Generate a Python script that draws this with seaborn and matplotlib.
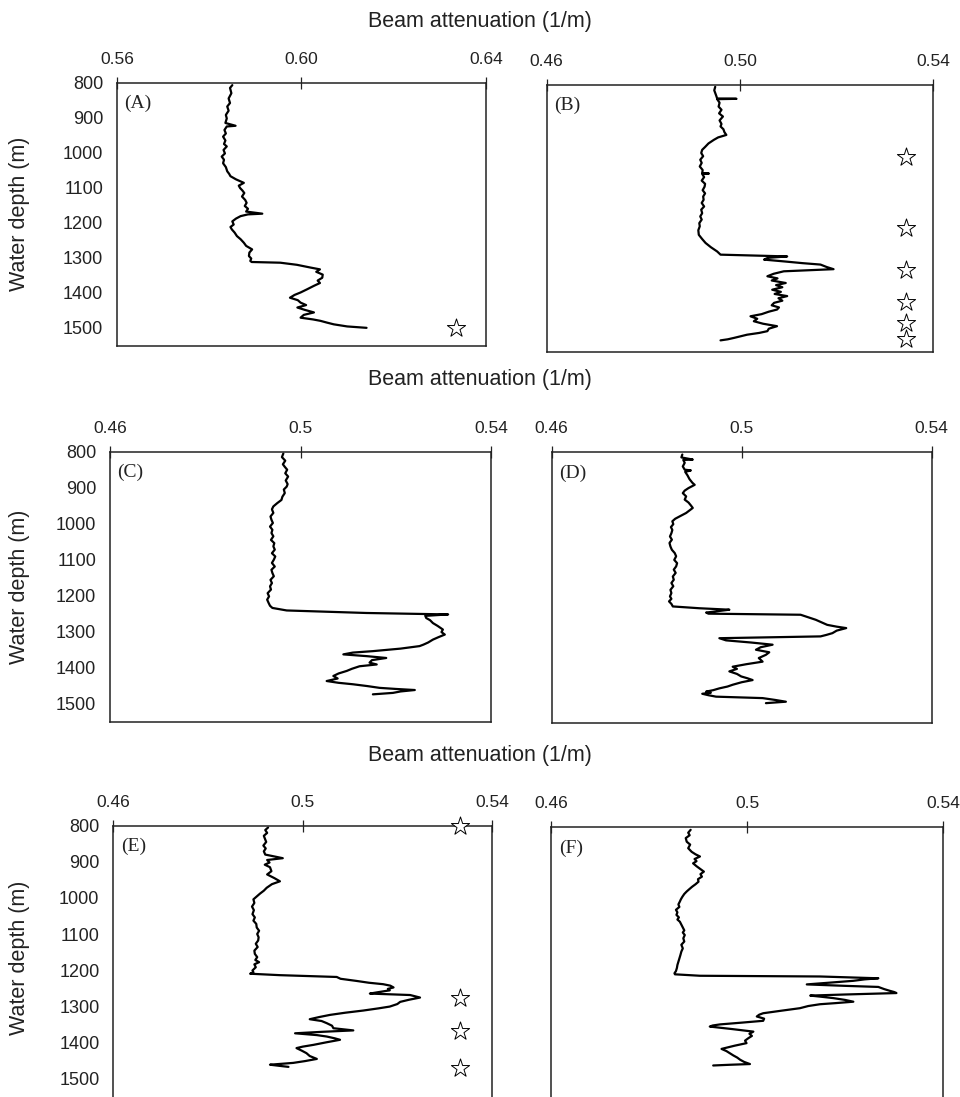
import numpy as np
import pandas as pd
import seaborn as sns
import matplotlib.pyplot as plt

sns.set_style('white')
plt.rcParams['font.family'] = ['Liberation Sans', 'DejaVu Sans']

# --- profiles: depth (m) and beam attenuation (1/m) ---
depth_a = [807, 815, 830, 845, 858, 868, 880, 892, 902, 915,
           923, 925, 935, 945, 954, 965, 975, 982, 992, 1002,
           1011, 1020, 1030, 1041, 1053, 1060, 1067, 1076, 1086, 1094,
           1101, 1108, 1115, 1125, 1135, 1143, 1152, 1160, 1168, 1174,
           1176, 1181, 1188, 1196, 1205, 1212, 1219, 1228, 1238, 1247,
           1257, 1266, 1276, 1285, 1295, 1302, 1309, 1312, 1314, 1320,
           1328, 1333, 1340, 1348, 1357, 1365, 1372, 1380, 1390, 1399,
           1406, 1414, 1421, 1428, 1435, 1442, 1449, 1456, 1463, 1471,
           1476, 1480, 1485, 1490, 1496, 1500]
beam_a = [.5850, .5845, .5848, .5842, .5845, .5839, .5842, .5836, .5838, .5835,
          .5857, .5838, .5833, .5836, .5830, .5835, .5832, .5838, .5831, .5834,
          .5827, .5832, .5830, .5836, .5839, .5843, .5846, .5858, .5875, .5864,
          .5867, .5872, .5876, .5871, .5878, .5881, .5877, .5884, .5880, .5915,
          .5884, .5868, .5858, .5850, .5853, .5846, .5849, .5855, .5860, .5868,
          .5875, .5880, .5893, .5887, .5886, .5891, .5889, .5892, .5954, .5990,
          .6020, .6040, .6032, .6046, .6045, .6035, .6040, .6027, .6012, .5998,
          .5985, .5975, .5992, .5998, .6010, .5991, .6008, .6027, .6005, .5998,
          .6025, .6041, .6055, .6070, .6099, .6141]

depth_b = [805, 815, 830, 838, 839, 840, 850, 861, 870, 880,
           889, 900, 910, 917, 925, 933, 941, 948, 955, 965,
           975, 983, 992, 1001, 1011, 1020, 1030, 1040, 1049, 1050,
           1051, 1060, 1070, 1079, 1087, 1097, 1106, 1115, 1124, 1133,
           1143, 1152, 1162, 1171, 1180, 1190, 1199, 1210, 1223, 1235,
           1246, 1258, 1270, 1279, 1284, 1288, 1293, 1298, 1303, 1307,
           1314, 1320, 1326, 1333, 1340, 1346, 1352, 1359, 1365, 1371,
           1378, 1384, 1390, 1396, 1402, 1409, 1415, 1422, 1428, 1434,
           1440, 1447, 1453, 1460, 1467, 1474, 1481, 1488, 1495, 1500,
           1505, 1510, 1514, 1518, 1521]
beam_b = [.4949, .4947, .4951, .4953, .4993, .4953, .4958, .4956, .4962, .4957,
          .4965, .4958, .4962, .4960, .4966, .4968, .4972, .4955, .4946, .4935,
          .4928, .4922, .4920, .4924, .4918, .4921, .4917, .4923, .4922, .4936,
          .4922, .4926, .4921, .4928, .4927, .4923, .4928, .4924, .4925, .4921,
          .4926, .4920, .4922, .4918, .4921, .4916, .4917, .4914, .4915, .4922,
          .4929, .4940, .4953, .4960, .5098, .5058, .5050, .5091, .5130, .5167,
          .5180, .5194, .5091, .5070, .5057, .5078, .5066, .5095, .5075, .5088,
          .5067, .5085, .5072, .5098, .5080, .5088, .5071, .5066, .5081, .5077,
          .5060, .5045, .5022, .5036, .5029, .5048, .5077, .5060, .5057, .5040,
          .5015, .5000, .4988, .4975, .4960]

depth_c = [805, 815, 825, 835, 842, 850, 860, 869, 880, 890,
           897, 905, 915, 925, 934, 943, 952, 960, 970, 980,
           989, 998, 1008, 1017, 1026, 1035, 1045, 1054, 1063, 1072,
           1082, 1091, 1100, 1109, 1119, 1128, 1137, 1146, 1156, 1165,
           1174, 1183, 1193, 1202, 1211, 1220, 1228, 1234, 1241, 1248,
           1252, 1256, 1262, 1268, 1276, 1284, 1294, 1301, 1308, 1315,
           1322, 1330, 1336, 1340, 1347, 1354, 1358, 1363, 1368, 1373,
           1379, 1386, 1391, 1396, 1403, 1409, 1416, 1423, 1430, 1437,
           1442, 1446, 1451, 1456, 1459, 1462, 1466, 1470, 1474]
beam_c = [.4964, .4961, .4968, .4963, .4967, .4972, .4968, .4974, .4969, .4973,
          .4971, .4965, .4967, .4962, .4960, .4951, .4943, .4940, .4943, .4937,
          .4939, .4942, .4936, .4941, .4939, .4943, .4938, .4945, .4943, .4946,
          .4940, .4947, .4944, .4940, .4946, .4939, .4941, .4944, .4937, .4940,
          .4936, .4938, .4931, .4934, .4930, .4933, .4936, .4941, .4971, .5138,
          .5310, .5262, .5264, .5272, .5278, .5288, .5299, .5296, .5303, .5290,
          .5278, .5268, .5258, .5250, .5210, .5152, .5110, .5090, .5140, .5180,
          .5150, .5145, .5160, .5124, .5108, .5097, .5080, .5069, .5078, .5055,
          .5080, .5110, .5140, .5166, .5200, .5240, .5210, .5194, .5152]

depth_d = [807, 815, 821, 822, 830, 840, 849, 851, 855, 865,
           875, 885, 891, 900, 907, 914, 923, 932, 940, 948,
           955, 962, 969, 978, 985, 992, 1000, 1008, 1016, 1025,
           1034, 1043, 1052, 1062, 1071, 1080, 1089, 1099, 1108, 1117,
           1126, 1135, 1145, 1154, 1163, 1172, 1182, 1191, 1200, 1207,
           1214, 1221, 1228, 1233, 1237, 1241, 1245, 1248, 1251, 1258,
           1265, 1272, 1279, 1284, 1288, 1295, 1302, 1307, 1311, 1316,
           1322, 1328, 1334, 1341, 1348, 1355, 1362, 1371, 1381, 1388,
           1395, 1401, 1408, 1415, 1422, 1427, 1432, 1438, 1445, 1450,
           1455, 1460, 1464, 1467, 1470, 1474, 1478, 1482, 1487, 1492,
           1496]
beam_d = [.4875, .4873, .4897, .4877, .4880, .4876, .4880, .4893, .4881, .4886,
          .4890, .4896, .4901, .4888, .4880, .4876, .4883, .4880, .4888, .4893,
          .4897, .4890, .4883, .4870, .4860, .4854, .4856, .4851, .4854, .4852,
          .4849, .4853, .4848, .4850, .4853, .4859, .4862, .4858, .4864, .4862,
          .4857, .4861, .4855, .4857, .4852, .4856, .4850, .4852, .4849, .4852,
          .4847, .4852, .4855, .4911, .4974, .4950, .4925, .4930, .5124, .5140,
          .5156, .5168, .5180, .5200, .5220, .5200, .5191, .5178, .5166, .4953,
          .4967, .5020, .5065, .5040, .5030, .5058, .5051, .5036, .5044, .5010,
          .4981, .4990, .4974, .4990, .4999, .5012, .5023, .5000, .4981, .4970,
          .4953, .4940, .4925, .4935, .4917, .4930, .4946, .5044, .5070, .5093,
          .5051]

depth_e = [805, 812, 820, 828, 835, 845, 855, 863, 871, 880,
           890, 895, 902, 908, 915, 926, 935, 945, 954, 962,
           972, 980, 988, 996, 1004, 1014, 1024, 1034, 1045, 1054,
           1063, 1072, 1082, 1091, 1100, 1109, 1118, 1127, 1136, 1146,
           1155, 1164, 1172, 1178, 1184, 1192, 1201, 1206, 1210, 1214,
           1219, 1224, 1230, 1235, 1239, 1243, 1248, 1252, 1256, 1261,
           1265, 1269, 1276, 1282, 1288, 1294, 1301, 1306, 1312, 1318,
           1324, 1330, 1336, 1341, 1347, 1354, 1361, 1367, 1371, 1375,
           1380, 1384, 1389, 1393, 1400, 1407, 1412, 1416, 1423, 1430,
           1438, 1446, 1452, 1457, 1462, 1465, 1468]
beam_e = [.4927, .4921, .4925, .4918, .4920, .4923, .4917, .4922, .4918, .4921,
          .4958, .4925, .4930, .4920, .4931, .4934, .4925, .4940, .4952, .4935,
          .4924, .4918, .4910, .4903, .4896, .4898, .4893, .4897, .4894, .4899,
          .4896, .4902, .4903, .4908, .4904, .4907, .4906, .4901, .4905, .4898,
          .4899, .4904, .4900, .4908, .4898, .4901, .4894, .4896, .4889, .4952,
          .5072, .5080, .5114, .5140, .5170, .5185, .5192, .5180, .5184, .5160,
          .5142, .5227, .5248, .5225, .5206, .5200, .5184, .5160, .5128, .5090,
          .5058, .5035, .5015, .5040, .5051, .5062, .5065, .5107, .5040, .4984,
          .5030, .5051, .5068, .5079, .5050, .5023, .5000, .4987, .4998, .5008,
          .5015, .5030, .5005, .4980, .4931, .4950, .4970]

depth_f = [807, 815, 822, 830, 840, 848, 858, 868, 875, 881,
           888, 894, 900, 908, 916, 923, 930, 937, 944, 951,
           958, 965, 972, 978, 985, 993, 1000, 1006, 1014, 1021,
           1029, 1036, 1043, 1050, 1056, 1062, 1070, 1078, 1086, 1092,
           1099, 1108, 1117, 1126, 1136, 1145, 1155, 1164, 1173, 1182,
           1190, 1199, 1205, 1208, 1212, 1214, 1219, 1222, 1226, 1231,
           1236, 1240, 1243, 1249, 1254, 1257, 1260, 1264, 1267, 1270,
           1274, 1279, 1284, 1288, 1291, 1296, 1302, 1309, 1316, 1320,
           1325, 1331, 1337, 1342, 1347, 1350, 1353, 1360, 1367, 1373,
           1379, 1385, 1392, 1399, 1406, 1411, 1415, 1421, 1427, 1433,
           1439, 1445, 1451, 1457, 1459, 1461]
beam_f = [.4885, .4880, .4883, .4875, .4877, .4884, .4880, .4887, .4895, .4904,
          .4893, .4897, .4890, .4897, .4905, .4912, .4905, .4908, .4900, .4901,
          .4895, .4888, .4882, .4877, .4872, .4868, .4865, .4863, .4860, .4862,
          .4855, .4858, .4856, .4861, .4858, .4863, .4866, .4869, .4872, .4869,
          .4873, .4870, .4872, .4866, .4869, .4866, .4864, .4862, .4860, .4858,
          .4857, .4855, .4852, .4853, .4904, .5149, .5268, .5240, .5217, .5170,
          .5122, .5200, .5268, .5280, .5292, .5300, .5305, .5200, .5129, .5150,
          .5176, .5200, .5217, .5180, .5149, .5125, .5108, .5070, .5033, .5025,
          .5020, .5035, .5033, .4990, .4945, .4930, .4924, .4970, .5013, .5005,
          .5010, .5003, .4996, .4999, .4975, .4960, .4948, .4958, .4965, .4972,
          .4980, .4986, .4994, .5006, .4965, .4931]

# sampling stations (stars)
star_a_depth = [1500]
star_b_depth = [1004, 1203, 1321, 1412, 1473, 1516]
star_e_depth = [800, 1276, 1369, 1470]

panel_labels = ['(A)', '(B)', '(C)', '(D)', '(E)', '(F)']
xlims = [(0.56, 0.64), (0.46, 0.54), (0.46, 0.54), (0.46, 0.54), (0.46, 0.54), (0.46, 0.54)]
xticks = [[0.56, 0.60, 0.64], [0.46, 0.50, 0.54]] + [[0.46, 0.50, 0.54]] * 4
xticklabels = [['0.56', '0.60', '0.64'], ['0.46', '0.50', '0.54']] + [['0.46', '0.5', '0.54']] * 4
depths = [depth_a, depth_b, depth_c, depth_d, depth_e, depth_f]
beams = [beam_a, beam_b, beam_c, beam_d, beam_e, beam_f]
stars = [(star_a_depth, 0.6336), (star_b_depth, 0.5344), None, None, (star_e_depth, 0.5332), None]

W, H = 960, 1097
# pixel boxes of each panel: left, top, right, bottom, and the depth at the bottom edge
boxes = [(117, 82.7, 486, 345.7, 1551),
         (546.7, 85, 933, 351.7, 1553),
         (110, 451.7, 491, 721.7, 1550),
         (551.7, 452, 931.7, 723, 1551),
         (113.3, 825.7, 492, 1099, 1557),
         (551, 827.3, 943, 1099, 1554)]

fig = plt.figure(figsize=(W / 100, H / 100), dpi=100)

for i in range(6):
    l, t, r, b, dmax = boxes[i]
    ax = fig.add_axes([l / W, (H - b) / H, (r - l) / W, (b - t) / H])
    df = pd.DataFrame({'depth': depths[i], 'beam': beams[i]})
    sns.lineplot(data=df, x='beam', y='depth', sort=False, estimator=None,
                 color='black', lw=1.6, ax=ax)
    if stars[i] is not None:
        sd, sx = stars[i]
        sdf = pd.DataFrame({'depth': sd, 'beam': [sx] * len(sd)})
        sns.scatterplot(data=sdf, x='beam', y='depth', marker='*', s=190,
                        facecolor='white', edgecolor='black', linewidth=0.7,
                        ax=ax, clip_on=False, zorder=5)
    ax.set_xlim(*xlims[i])
    ax.set_ylim(dmax, 800)
    ax.xaxis.tick_top()
    ax.set_xticks(xticks[i])
    ax.set_xticklabels(xticklabels[i])
    ax.set_yticks(range(800, 1600, 100))
    ax.tick_params(axis='x', direction='inout', length=9, width=0.9, pad=7,
                   labelsize=12.5, colors='#222222')
    ax.tick_params(axis='y', direction='out', length=6, width=0.9, pad=4,
                   labelsize=13, colors='#222222')
    if i % 2 == 1:
        ax.set_yticklabels([])
    ax.set_xlabel('')
    ax.set_ylabel('')
    for sp in ax.spines.values():
        sp.set_color('#222222')
        sp.set_linewidth(1.1)
    ax.text(0.02, 0.955, panel_labels[i], transform=ax.transAxes, va='top', ha='left',
            fontsize=14, family=['Liberation Serif', 'DejaVu Serif'], color='#222222')

for ty in [22, 380, 755]:
    fig.text(480 / W, 1 - ty / H, 'Beam attenuation (1/m)', ha='center', va='center',
             fontsize=15.5, color='#222222')
for ly in [214, 587, 958]:
    fig.text(20 / W, 1 - ly / H, 'Water depth (m)', ha='center', va='center',
             rotation=90, fontsize=15.5, color='#222222')

fig.savefig('out.png', dpi=100)
